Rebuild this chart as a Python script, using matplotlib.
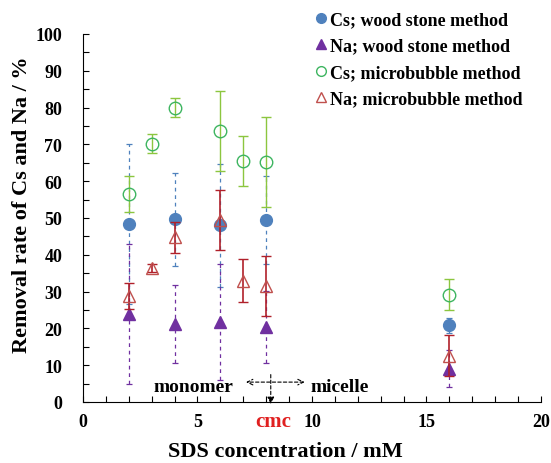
import matplotlib

matplotlib.use("Agg")
import matplotlib.pyplot as plt
from matplotlib.lines import Line2D
from matplotlib.ticker import MultipleLocator

plt.rcParams["font.family"] = ["Liberation Serif", "DejaVu Serif"]
plt.rcParams["font.weight"] = "bold"

# wood stone method
x_wood = [2, 4, 6, 8, 16]
cs_wood = [48.3, 49.6, 48.0, 49.5, 20.8]
cs_wood_err = [21.8, 12.6, 16.8, 12.0, 2.0]
na_wood = [24.0, 21.3, 21.8, 20.4, 9.0]
na_wood_err = [19.0, 10.6, 15.8, 9.8, 5.0]

# microbubble method
x_mb = [2, 3, 4, 6, 7, 8, 16]
cs_mb = [56.5, 70.2, 80.0, 73.7, 65.5, 65.2, 29.1]
cs_mb_err = [4.8, 2.5, 2.6, 10.8, 6.7, 12.2, 4.2]
na_mb = [28.7, 36.4, 44.8, 49.5, 33.0, 31.6, 12.6]
na_mb_err = [3.5, 1.0, 4.2, 8.1, 5.9, 8.2, 5.5]

labels = ["Cs; wood stone method", "Na; wood stone method",
          "Cs; microbubble method", "Na; microbubble method"]

C_BLUE, C_PURPLE = "#4F81BD", "#7030A0"
C_GREEN, C_GREEN_ERR = "#3DB560", "#8CC63F"
C_RED, C_RED_ERR = "#C0504D", "#B0202A"

fig = plt.figure(figsize=(5.51, 4.64), dpi=100)
ax = fig.add_axes([0.1506, 0.1315, 0.8312, 0.7931])

def dashed_err(x, y, e, color, marker):
    eb = ax.errorbar(x, y, yerr=e, fmt=marker, ms=8.5, color=color, ecolor=color,
                     elinewidth=0.9, capsize=2.5, capthick=0.9, zorder=3)
    eb[2][0].set_linestyle((0, (3, 3)))
    return eb

dashed_err(x_wood, cs_wood, cs_wood_err, C_BLUE, "o")
dashed_err(x_wood, na_wood, na_wood_err, C_PURPLE, "^")
ax.errorbar(x_mb, cs_mb, yerr=cs_mb_err, fmt="o", ms=9, mfc="none", mec=C_GREEN,
            mew=1.0, ecolor=C_GREEN_ERR, elinewidth=1.0, capsize=3.5, capthick=1.0, zorder=4)
ax.errorbar(x_mb, na_mb, yerr=na_mb_err, fmt="^", ms=9, mfc="none", mec=C_RED,
            mew=1.0, ecolor=C_RED_ERR, elinewidth=1.2, capsize=3.5, capthick=1.2, zorder=4)

ax.set_xlim(0, 20)
ax.set_ylim(0, 100)
ax.xaxis.set_major_locator(MultipleLocator(5))
ax.xaxis.set_minor_locator(MultipleLocator(1))
ax.yaxis.set_major_locator(MultipleLocator(10))
ax.yaxis.set_minor_locator(MultipleLocator(5))
ax.tick_params(which="both", direction="in", labelsize=13, length=4, width=0.8)
ax.tick_params(axis="y", pad=15)
ax.tick_params(axis="x", pad=8)
for s in ("top", "right"):
    ax.spines[s].set_visible(False)

fig.text(285 / 551, 1 - 452 / 464, "SDS concentration / mM", ha="center", va="center",
         fontsize=16, fontweight="bold")
fig.text(22 / 551, 1 - 205 / 464, "Removal rate of Cs and Na / %", ha="center", va="center",
         rotation=90, fontsize=16, fontweight="bold")

# cmc annotations
ax.text(6.55, 4.1, "monomer", ha="right", va="center", fontsize=14, fontweight="bold")
ax.text(9.95, 4.1, "micelle", ha="left", va="center", fontsize=14, fontweight="bold")
ax.annotate("", xy=(7.0, 5.4), xytext=(9.8, 5.4),
            arrowprops=dict(arrowstyle="<->", ls=(0, (3, 2)), lw=0.8, color="black"))
ax.annotate("", xy=(8.2, -1.3), xytext=(8.2, 8.2), annotation_clip=False,
            arrowprops=dict(arrowstyle="-|>", ls=(0, (3, 2)), lw=0.8, color="black",
                            mutation_scale=10))
ax.text(8.3, -5.2, "cmc", ha="center", va="center", fontsize=15, fontweight="bold",
        color="#E02020", clip_on=False)

handles = [
    Line2D([], [], ls="none", marker="o", ms=7, color=C_BLUE),
    Line2D([], [], ls="none", marker="^", ms=7, color=C_PURPLE),
    Line2D([], [], ls="none", marker="o", ms=7, mfc="none", mec=C_GREEN),
    Line2D([], [], ls="none", marker="^", ms=7, mfc="none", mec=C_RED),
]
fig.legend(handles, labels, loc="upper left", bbox_to_anchor=(316 / 551, 1 - 12 / 464),
           frameon=False, borderpad=0, borderaxespad=0, handlelength=0.5,
           handletextpad=0.25, labelspacing=0.53,
           prop=dict(family="Liberation Serif", weight="bold", size=13))

fig.savefig("out.png", dpi=100)
